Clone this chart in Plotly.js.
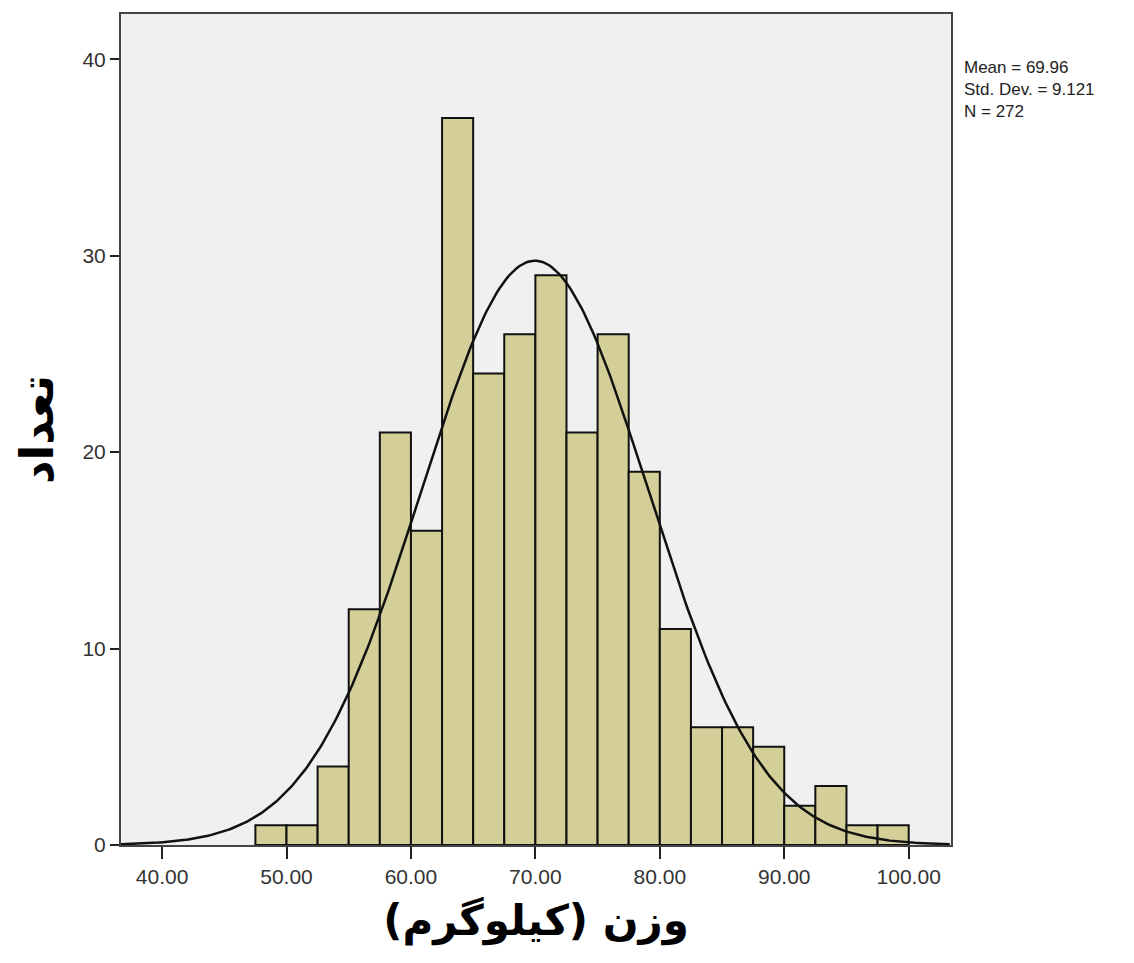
<!DOCTYPE html>
<html>
<head>
<meta charset="utf-8">
<script src="https://cdn.plot.ly/plotly-3.0.1.min.js"></script>
<style>html,body{margin:0;padding:0;background:#fff;}#chart{width:1134px;height:963px;}</style>
</head>
<body>
<div id="chart"></div>
<script>
const binStarts = [47.5, 50, 52.5, 55, 57.5, 60, 62.5, 65, 67.5, 70, 72.5, 75, 77.5, 80, 82.5, 85, 87.5, 90, 92.5, 95, 97.5];
const counts = [1, 1, 4, 12, 21, 16, 37, 24, 26, 29, 21, 26, 19, 11, 6, 6, 5, 2, 3, 1, 1];
const binWidth = 2.5;
const statMean = 69.96;
const statSD = 9.121;
const statN = 272;
const statLines = ['Mean = 69.96', 'Std. Dev. = 9.121', 'N = 272'];
const xTickVals = [40, 50, 60, 70, 80, 90, 100];
const yTickVals = [0, 10, 20, 30, 40];

const centers = binStarts.map(s => s + binWidth / 2);

// fitted normal curve from the stated mean, SD and N
const cx = [], cy = [];
for (let x = 36.7; x <= 103.4; x += 0.2) {
  cx.push(x);
  cy.push(statN * binWidth / (statSD * Math.sqrt(2 * Math.PI)) * Math.exp(-0.5 * Math.pow((x - statMean) / statSD, 2)));
}

const traces = [
  {type: 'bar', x: centers, y: counts, width: binWidth,
   marker: {color: '#d4cf98', line: {color: '#111', width: 2}}, hoverinfo: 'x+y'},
  {type: 'scatter', mode: 'lines', x: cx, y: cy, line: {color: '#111', width: 2.5}, hoverinfo: 'skip'}
];

const layout = {
  width: 1134, height: 963,
  margin: {l: 121, r: 183, t: 14, b: 118},
  paper_bgcolor: '#ffffff', plot_bgcolor: '#f0f0f0',
  showlegend: false, bargap: 0,
  font: {family: 'Liberation Sans, Arial, sans-serif', color: '#333'},
  xaxis: {range: [36.7, 103.4], tickvals: xTickVals, tickformat: '.2f', ticks: 'outside', ticklen: 12, tickwidth: 2, tickcolor: '#222',
          showgrid: false, zeroline: false, showline: true, linecolor: '#444', linewidth: 2, mirror: true,
          tickfont: {size: 21, color: '#333'},
          title: {text: 'وزن (کیلوگرم)', font: {family: 'DejaVu Sans', size: 42, color: '#000', weight: 'bold'}, standoff: 18}},
  yaxis: {range: [0, 42.3], tickvals: yTickVals, ticks: 'outside', ticklen: 9, tickwidth: 2, tickcolor: '#222',
          showgrid: false, zeroline: false, showline: true, linecolor: '#444', linewidth: 2, mirror: true,
          tickfont: {size: 21, color: '#333'},
          title: {text: 'تعداد', font: {family: 'DejaVu Sans', size: 46, color: '#000', weight: 'bold'}, standoff: 14}},
  annotations: [{
    xref: 'paper', yref: 'paper', x: 1.0, y: 0.95, xanchor: 'left', yanchor: 'top', xshift: 11,
    align: 'left', showarrow: false, text: statLines.join('<br>'),
    font: {family: 'Liberation Sans, Arial, sans-serif', size: 17, color: '#222'}
  }]
};

Plotly.newPlot('chart', traces, layout, {displayModeBar: false, staticPlot: true});
</script>
</body>
</html>
